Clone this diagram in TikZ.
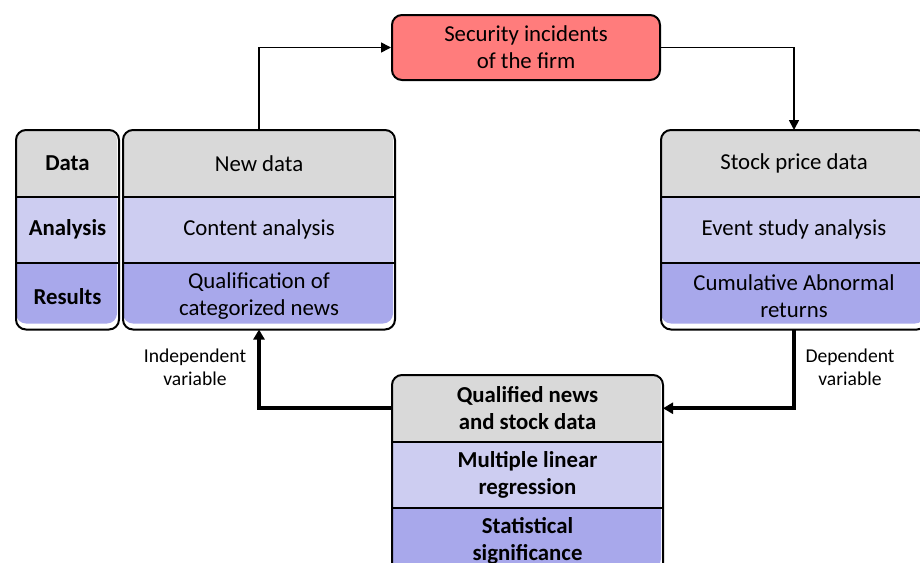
\documentclass[tikz,border=0pt]{standalone}
\usepackage{fontspec}
\setmainfont{Carlito}
\usetikzlibrary{arrows.meta}

\definecolor{rowgray}{HTML}{D9D9D9}
\definecolor{rowlight}{HTML}{CDCDF1}
\definecolor{rowdark}{HTML}{A8A8EB}
\definecolor{incident}{HTML}{FF7C7C}

\begin{document}
\begin{tikzpicture}[x=0.5pt,y=-0.5pt,line width=1pt,
  font=\fontsize{11.4}{13.5}\selectfont,
  cell/.style={minimum width={#1*0.5pt},minimum height={\rowh*0.5pt},
    inner sep=0pt,align=center,anchor=north west},
  link/.style={line width=0.8pt,-{Triangle[length=5pt,width=5pt]}},
  boldlink/.style={line width=2pt,-{Triangle[length=5pt,width=5.5pt]}},
  note/.style={font=\fontsize{9.8}{11.5}\selectfont,align=center}]

\clip (0,0) rectangle (920,562);

\pgfmathsetmacro{\rowh}{64.5}

% three stacked rows in one rounded frame: name, x, y, width, texts
\def\stack#1#2#3#4#5#6#7{%
  \begin{scope}
    \clip[rounded corners=5pt] (#2,#3) rectangle ++(#4,3*\rowh);
    \node[cell=#4,fill=rowgray] (#1a) at (#2,#3) {#5};
    \node[cell=#4,fill=rowlight] (#1b) at (#1a.south west) {#6};
    \node[cell=#4,fill=rowdark] (#1c) at (#1b.south west) {#7};
  \end{scope}
  \draw (#1a.south west) -- (#1a.south east);
  \draw (#1b.south west) -- (#1b.south east);
  \draw[rounded corners=5pt] (#1a.north west) rectangle (#1c.south east);
}

\stack{leg}{16}{130}{101}{\bfseries Data}{\bfseries Analysis}{\bfseries Results}
\stack{news}{123}{130}{270}{New data}{Content analysis}{Qualification of\\categorized news}
\stack{stock}{661}{130}{264}{Stock price data}{Event study analysis}{Cumulative Abnormal\\returns}
\stack{qual}{392}{375}{269}{\bfseries Qualified news\\\bfseries and stock data}{\bfseries Multiple linear\\\bfseries regression}{\bfseries Statistical\\\bfseries significance}

\node[draw,fill=incident,rounded corners=5pt,align=center,
  minimum width=134pt,minimum height=32.5pt] (incident) at (526,47.5)
  {Security incidents\\of the firm};

\draw[link] (newsa.north) |- (incident.west);
\draw[link] (incident.east) -| (stocka.north);
\draw[boldlink] (stockc.south) |- (quala.east);
\draw[boldlink] (quala.west) -| (newsc.south);

\node[note] (indep) at (195,367) {Independent\\variable};
\node[note] (dep) at (850,367) {Dependent\\variable};

\end{tikzpicture}
\end{document}
